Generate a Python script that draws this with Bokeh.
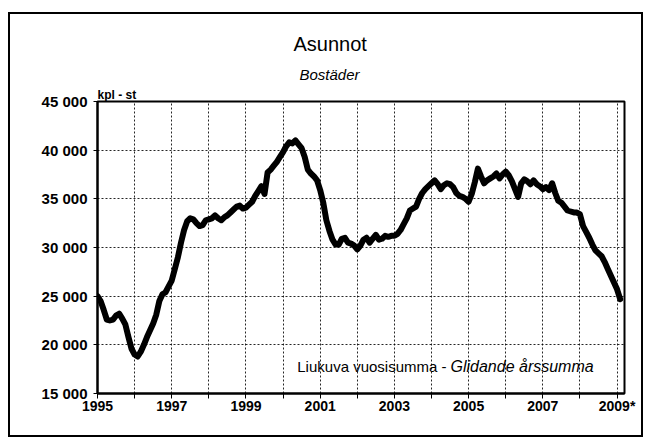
import numpy as np
from bokeh.plotting import figure
from bokeh.models import FixedTicker, Label, Range1d, ColumnDataSource, Title
from bokeh.embed import file_html
from bokeh.resources import INLINE

# ---- data: rolling 12-month sum of dwellings, monthly values ----
years = list(range(1995, 2010))
v1995 = [25000, 24500, 23600, 22600, 22500, 22600, 23000, 23200, 22700, 22100, 20800, 19600]
v1996 = [19000, 18800, 19300, 20000, 20800, 21500, 22200, 23100, 24500, 25200, 25400, 26000]
v1997 = [26600, 27800, 29000, 30500, 31800, 32700, 33000, 32900, 32500, 32200, 32300, 32800]
v1998 = [32900, 33000, 33300, 33000, 32800, 33100, 33300, 33600, 33900, 34200, 34300, 34000]
v1999 = [34100, 34400, 34700, 35300, 35800, 36300, 35500, 37700, 38000, 38400, 38800, 39300]
v2000 = [39800, 40400, 40800, 40700, 41000, 40600, 40200, 39300, 38000, 37600, 37300, 36900]
v2001 = [35900, 34600, 32800, 31700, 30800, 30300, 30300, 30900, 31000, 30500, 30400, 30200]
v2002 = [29800, 30200, 30800, 31000, 30500, 30900, 31300, 30800, 30900, 31200, 31100, 31200]
v2003 = [31200, 31400, 31800, 32400, 33000, 33800, 34000, 34200, 35000, 35600, 36000, 36300]
v2004 = [36600, 36900, 36500, 36000, 36400, 36600, 36500, 36200, 35600, 35300, 35200, 35000]
v2005 = [34700, 35500, 36700, 38100, 37300, 36600, 36900, 37100, 37300, 37600, 37100, 37500]
v2006 = [37800, 37400, 36800, 36000, 35200, 36600, 37000, 36800, 36500, 36900, 36500, 36300]
v2007 = [36000, 36200, 35900, 36600, 35600, 34800, 34600, 34200, 33800, 33700, 33600, 33600]
v2008 = [33400, 32200, 31600, 31000, 30300, 29700, 29400, 29100, 28500, 27800, 27100, 26400]
v2009 = [25700, 24700]
monthly = [v1995, v1996, v1997, v1998, v1999, v2000, v2001, v2002,
           v2003, v2004, v2005, v2006, v2007, v2008, v2009]

x_ticks = list(range(1995, 2010))
x_labels = ["1995", "", "1997", "", "1999", "", "2001", "", "2003", "", "2005", "", "2007", "", "2009*"]
y_ticks = [15000, 20000, 25000, 30000, 35000, 40000, 45000]
y_labels = ["15 000", "20 000", "25 000", "30 000", "35 000", "40 000", "45 000"]

title_text = "Asunnot"
subtitle_text = "Bostäder"
unit_text = "kpl - st"
note_fi = "Liukuva vuosisumma -"
note_sv = "Glidande årssumma"

xs, ys = [], []
for yr, vals in zip(years, monthly):
    for m, v in enumerate(vals):
        xs.append(yr + m / 12.0)
        ys.append(v)
src = ColumnDataSource(dict(x=xs, y=ys))

FONT = "Liberation Sans"

p = figure(width=635, height=425, output_backend="svg", toolbar_location=None,
           title_location=None,
           x_range=Range1d(1995, 2009.2), y_range=Range1d(15000, 45000),
           min_border_left=87, min_border_right=21, min_border_top=87, min_border_bottom=46)
p.styles = {"border": "2px solid black", "margin-left": "8px", "margin-top": "12px"}
p.background_fill_color = "white"
p.border_fill_color = "white"
p.outline_line_color = "black"
p.outline_line_width = 2

p.line("x", "y", source=src, line_color="black", line_width=6, line_join="round", line_cap="round")

# axes
xa = p.xaxis[0]
xa.ticker = FixedTicker(ticks=x_ticks)
xa.major_label_overrides = {t: l for t, l in zip(x_ticks, x_labels)}
xa.minor_tick_line_color = None
xa.major_tick_out = 5
xa.major_tick_in = 0
xa.major_tick_line_color = "black"
xa.major_tick_line_width = 1
xa.axis_line_color = "black"
xa.axis_line_width = 2
xa.major_label_standoff = -1
xa.major_label_text_font = FONT
xa.major_label_text_font_size = "14px"
xa.major_label_text_font_style = "bold"
xa.major_label_text_color = "black"

ya = p.yaxis[0]
ya.ticker = FixedTicker(ticks=y_ticks)
ya.major_label_overrides = {t: l for t, l in zip(y_ticks, y_labels)}
ya.minor_tick_line_color = None
ya.major_tick_out = 4
ya.major_tick_in = 0
ya.major_tick_line_color = "black"
ya.axis_line_color = "black"
ya.axis_line_width = 2
ya.major_label_standoff = 6
ya.major_label_text_font = FONT
ya.major_label_text_font_size = "15px"
ya.major_label_text_font_style = "bold"
ya.major_label_text_color = "black"

# grids
p.xgrid.ticker = FixedTicker(ticks=x_ticks)
p.ygrid.ticker = FixedTicker(ticks=y_ticks)
for g in (p.xgrid[0], p.ygrid[0]):
    g.grid_line_color = "black"
    g.grid_line_width = 1
    g.grid_line_dash = "2 2"
    g.grid_line_alpha = 0.85

# titles stacked above the frame (first added = closest to frame)
p.add_layout(Title(text=unit_text, align="left", offset=0, standoff=0,
                   text_font=FONT, text_font_size="12px", text_font_style="bold",
                   text_color="black"), "above")
p.add_layout(Title(text=subtitle_text, align="left", offset=202, standoff=6,
                   text_font=FONT, text_font_size="15px", text_font_style="italic",
                   text_color="black"), "above")
p.add_layout(Title(text=title_text, align="left", offset=196, standoff=11,
                   text_font=FONT, text_font_size="20px", text_font_style="normal",
                   text_color="black"), "above")

# note inside the frame
p.add_layout(Label(x=349, y=27, x_units="screen", y_units="screen", text=note_fi,
                   text_align="right", text_baseline="alphabetic",
                   text_font=FONT, text_font_size="15px", text_color="black"))
p.add_layout(Label(x=353, y=27, x_units="screen", y_units="screen", text=note_sv,
                   text_align="left", text_baseline="alphabetic",
                   text_font=FONT, text_font_size="16px", text_font_style="italic",
                   text_color="black"))

open("out.html", "w").write(file_html(p, INLINE))
